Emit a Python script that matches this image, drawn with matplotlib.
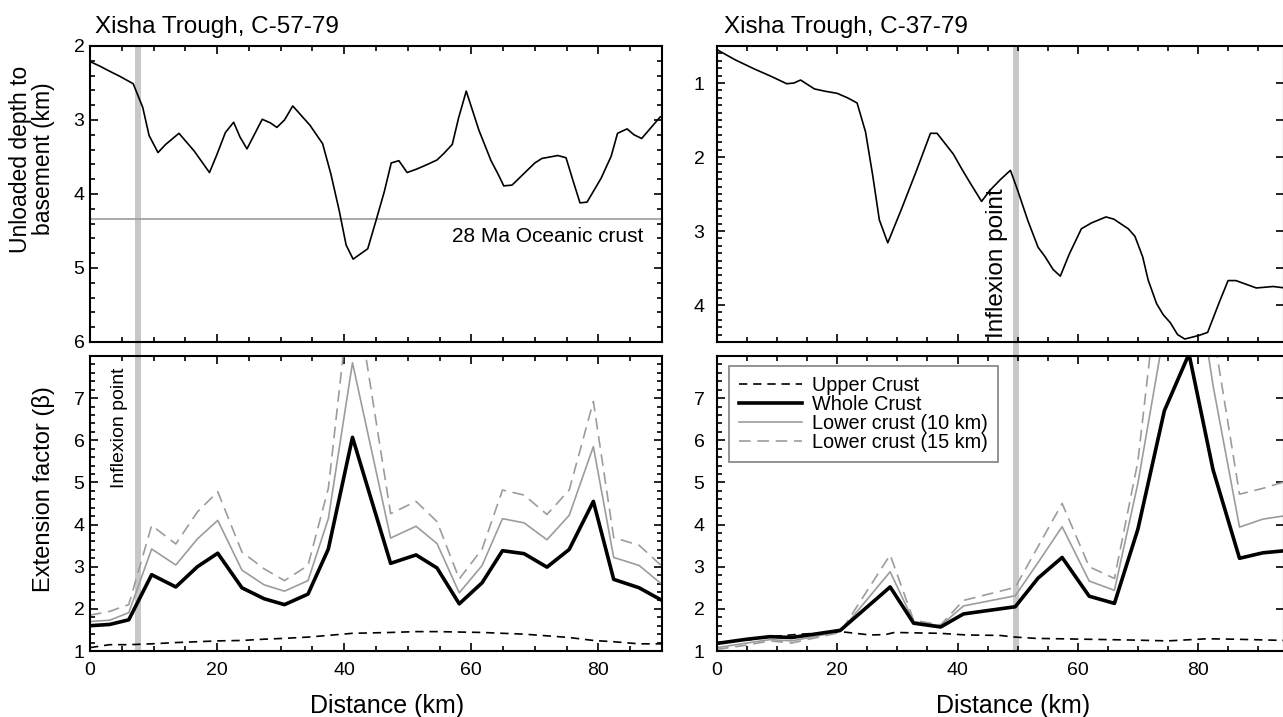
import matplotlib
matplotlib.use('Agg')
import matplotlib.pyplot as plt
from matplotlib.ticker import MultipleLocator, FixedLocator, NullFormatter

plt.rcParams['font.family'] = ['Liberation Sans', 'DejaVu Sans']

# C-57-79 unloaded depth to basement
dist_a = [0, 1.5, 3.3, 4.7, 6.8, 8.3, 9.3, 10.7, 11.9, 14.0, 16.4, 18.8, 20.0, 21.3, 22.6,
          23.6, 24.7, 27.1, 28.4, 29.4, 30.6, 31.9, 34.6, 36.6, 37.9, 39.2, 40.3, 41.4, 43.7,
          45.0, 46.3, 47.4, 48.6, 49.9, 51.5, 53.1, 54.6, 55.7, 57.0, 58.0, 59.2, 61.2, 63.1,
          64.2, 65.1, 66.4, 68.2, 70.0, 71.1, 73.6, 74.9, 76.0, 77.1, 78.2, 80.4, 82.0, 83.0,
          84.5, 85.6, 86.8, 88.6, 89.7, 90.0]
depth_a = [2.21, 2.27, 2.35, 2.41, 2.51, 2.83, 3.21, 3.44, 3.33, 3.18, 3.42, 3.71, 3.46, 3.17,
           3.03, 3.23, 3.39, 2.99, 3.04, 3.10, 3.00, 2.81, 3.07, 3.32, 3.73, 4.22, 4.69, 4.88,
           4.74, 4.36, 3.97, 3.58, 3.55, 3.71, 3.66, 3.60, 3.54, 3.45, 3.33, 2.97, 2.61, 3.14,
           3.55, 3.73, 3.89, 3.88, 3.73, 3.58, 3.52, 3.48, 3.51, 3.82, 4.12, 4.11, 3.79, 3.49,
           3.18, 3.12, 3.20, 3.25, 3.07, 2.96, 2.95]
oceanic_depth = 4.34

# C-37-79 unloaded depth to basement
dist_b = [0, 3.1, 6.2, 9.0, 11.6, 12.8, 13.9, 16.2, 17.9, 20.0, 21.7, 23.3, 24.7, 25.9, 27.0,
          28.4, 30.7, 33.1, 35.5, 36.6, 39.3, 40.7, 42.1, 44.0, 45.4, 47.2, 48.8, 50.0, 51.7,
          53.4, 54.5, 55.9, 57.1, 58.6, 60.6, 62.3, 64.7, 66.0, 68.4, 69.5, 70.8, 71.7, 73.1,
          74.2, 75.4, 76.6, 77.8, 80.2, 81.6, 83.6, 85.0, 86.3, 89.7, 92.5, 94.5]
depth_b = [0.55, 0.69, 0.81, 0.91, 1.01, 1.00, 0.96, 1.08, 1.11, 1.14, 1.20, 1.27, 1.66, 2.25,
           2.85, 3.16, 2.70, 2.20, 1.68, 1.68, 1.96, 2.16, 2.35, 2.60, 2.45, 2.30, 2.18, 2.45,
           2.86, 3.22, 3.34, 3.52, 3.61, 3.31, 2.97, 2.89, 2.81, 2.84, 2.97, 3.07, 3.35, 3.66,
           3.98, 4.13, 4.24, 4.40, 4.46, 4.41, 4.37, 3.95, 3.67, 3.67, 3.77, 3.75, 3.77]

# C-57-79 extension factors
dist_c = [0, 3.1, 6.1, 9.7, 13.5, 16.9, 20.1, 23.9, 27.4, 30.6, 34.3, 37.5, 41.3, 47.3, 51.3,
          54.6, 58.1, 61.7, 64.9, 68.3, 71.9, 75.4, 79.2, 82.4, 86.4, 90.0]
whole_c = [1.60, 1.63, 1.74, 2.81, 2.52, 3.00, 3.32, 2.50, 2.24, 2.10, 2.35, 3.42, 6.07, 3.08,
           3.28, 2.97, 2.12, 2.62, 3.38, 3.31, 2.99, 3.41, 4.55, 2.70, 2.50, 2.20]
lower10_c = [1.70, 1.73, 1.91, 3.42, 3.04, 3.66, 4.10, 2.92, 2.57, 2.42, 2.67, 4.14, 7.84, 3.68,
             3.96, 3.55, 2.38, 3.03, 4.14, 4.04, 3.64, 4.22, 5.85, 3.22, 3.03, 2.58]
lower15_c = [1.85, 1.94, 2.10, 3.98, 3.54, 4.30, 4.78, 3.35, 2.95, 2.67, 3.03, 4.86, 10.0, 4.26,
             4.55, 4.07, 2.71, 3.42, 4.82, 4.70, 4.24, 4.82, 6.92, 3.69, 3.51, 3.01]
upper_c = [1.08, 1.15, 1.15, 1.17, 1.20, 1.22, 1.24, 1.25, 1.28, 1.30, 1.33, 1.37, 1.42, 1.44,
           1.46, 1.46, 1.45, 1.44, 1.42, 1.40, 1.36, 1.32, 1.25, 1.22, 1.17, 1.17]

# C-37-79 extension factors
dist_d = [0, 5.0, 8.8, 12.4, 20.5, 28.8, 32.7, 37.2, 41.0, 49.6, 53.4, 57.4, 61.9, 66.1, 70.0,
          74.4, 78.5, 82.5, 86.9, 90.8, 94.5]
whole_d = [1.18, 1.28, 1.34, 1.32, 1.49, 2.52, 1.66, 1.57, 1.88, 2.05, 2.73, 3.22, 2.30, 2.13,
           3.89, 6.70, 8.05, 5.30, 3.20, 3.33, 3.38]
lower10_d = [1.08, 1.19, 1.27, 1.24, 1.46, 2.88, 1.70, 1.60, 2.07, 2.31, 3.10, 3.95, 2.66, 2.44,
             4.98, 8.6, 11.0, 7.3, 3.94, 4.13, 4.21]
lower15_d = [1.04, 1.14, 1.24, 1.19, 1.44, 3.28, 1.73, 1.62, 2.20, 2.51, 3.48, 4.50, 3.00, 2.72,
             5.5, 11.0, 14.0, 8.6, 4.72, 4.86, 5.02]
dist_upper_d = [0, 5.0, 8.8, 13.0, 20.5, 25.5, 28.0, 29.5, 33, 37, 41.5, 47, 49.6, 53, 61, 69,
                75, 81.5, 86, 94.5]
upper_d = [1.20, 1.26, 1.34, 1.39, 1.46, 1.38, 1.39, 1.44, 1.43, 1.42, 1.38, 1.37, 1.33, 1.30,
           1.28, 1.26, 1.24, 1.29, 1.28, 1.25]

inflexion_a = (7.1, 8.0)
inflexion_b = (49.2, 50.2)

W, H = 1283, 717
fig = plt.figure(figsize=(W / 100, H / 100), dpi=100)

def box(x0, y0, x1, y1):
    return [x0 / W, 1 - y1 / H, (x1 - x0) / W, (y1 - y0) / H]

ax_a = fig.add_axes(box(90, 46, 662, 342))
ax_c = fig.add_axes(box(90, 356, 662, 651))
ax_b = fig.add_axes(box(717, 46, 1284, 342))
ax_d = fig.add_axes(box(717, 356, 1284, 651))

band = '#c8c8c8'
grey = '#9c9c9c'

def style(ax, ymaj, ymin, ypad, right_ticks=None):
    for s in ax.spines.values():
        s.set_linewidth(1.5)
    ax.xaxis.set_major_locator(MultipleLocator(20))
    ax.xaxis.set_minor_locator(MultipleLocator(5))
    ax.yaxis.set_major_locator(FixedLocator(ymaj))
    ax.yaxis.set_minor_locator(MultipleLocator(ymin))
    ax.tick_params(which='both', direction='in', top=True, right=right_ticks is None,
                   width=1.2, labelsize=14)
    ax.tick_params(which='major', length=6)
    ax.tick_params(which='minor', length=3.5)
    ax.tick_params(axis='x', pad=8)
    ax.tick_params(axis='y', pad=ypad)
    if right_ticks is not None:
        sec = ax.secondary_yaxis('right')
        sec.yaxis.set_major_locator(FixedLocator(right_ticks))
        sec.yaxis.set_major_formatter(NullFormatter())
        sec.tick_params(direction='in', length=6, width=1.2)
        sec.spines['right'].set_linewidth(1.5)

# top left: depth C-57-79
ax_a.axvspan(*inflexion_a, ymin=-0.05, ymax=1, color=band, lw=0, zorder=0.5, clip_on=False)
ax_a.axhline(oceanic_depth, color=grey, lw=1.2, zorder=1)
ax_a.plot(dist_a, depth_a, color='black', lw=1.2, zorder=2)
ax_a.set_xlim(0, 90)
ax_a.set_ylim(6, 2)
ax_a.text(87.1, 4.58, '28 Ma Oceanic crust', ha='right', va='center', fontsize=15)
style(ax_a, [2, 3, 4, 5, 6], 0.2, 4)
ax_a.tick_params(axis='x', labelbottom=False)

# top right: depth C-37-79
ax_b.axvspan(*inflexion_b, ymin=-0.05, ymax=1, color=band, lw=0, zorder=0.5, clip_on=False)
ax_b.plot(dist_b, depth_b, color='black', lw=1.2, zorder=2)
ax_b.set_xlim(0, 94.3)
ax_b.set_ylim(4.5, 0.5)
ax_b.text(46.6, 4.44, 'Inflexion point', rotation=90, ha='center', va='bottom', fontsize=17.5)
style(ax_b, [1, 2, 3, 4], 0.1, 9, right_ticks=[1, 1.5, 2, 2.5, 3, 3.5, 4])
ax_b.tick_params(axis='x', labelbottom=False)

# bottom left: extension factor C-57-79
ax_c.axvspan(*inflexion_a, color=band, lw=0, zorder=0.5)
ax_c.plot(dist_c, lower15_c, color=grey, lw=1.2, dashes=(7, 4), zorder=2)
ax_c.plot(dist_c, lower10_c, color=grey, lw=1.2, zorder=2)
ax_c.plot(dist_c, upper_c, color='black', lw=1.2, dashes=(5, 3.5), zorder=2)
ax_c.plot(dist_c, whole_c, color='black', lw=2.6, zorder=3)
ax_c.set_xlim(0, 90)
ax_c.set_ylim(1, 8)
ax_c.text(4.7, 7.72, 'Inflexion point', rotation=90, ha='center', va='top', fontsize=14)
style(ax_c, [1, 2, 3, 4, 5, 6, 7], 0.2, 4)

# bottom right: extension factor C-37-79
ax_d.axvspan(*inflexion_b, color=band, lw=0, zorder=0.5)
l15, = ax_d.plot(dist_d, lower15_d, color=grey, lw=1.2, dashes=(7, 4), zorder=2,
                 label='Lower crust (15 km)')
l10, = ax_d.plot(dist_d, lower10_d, color=grey, lw=1.2, zorder=2, label='Lower crust (10 km)')
lup, = ax_d.plot(dist_upper_d, upper_d, color='black', lw=1.2, dashes=(5, 3.5), zorder=2,
                 label='Upper Crust')
lwh, = ax_d.plot(dist_d, whole_d, color='black', lw=2.6, zorder=3, label='Whole Crust')
ax_d.set_xlim(0, 94.3)
ax_d.set_ylim(1, 8)
style(ax_d, [1, 2, 3, 4, 5, 6, 7], 0.2, 9, right_ticks=[1, 2, 3, 4, 5, 6, 7])
leg = ax_d.legend(handles=[lup, lwh, l10, l15], loc='upper left',
                  bbox_to_anchor=(0.021, 0.966), borderaxespad=0, fontsize=14.3,
                  labelspacing=0.0, handlelength=3.2, handletextpad=0.5,
                  borderpad=0.5, fancybox=False, framealpha=1)
leg.get_frame().set_edgecolor('#808080')
leg.get_frame().set_linewidth(1.2)

# titles and axis labels
fig.text(95 / W, 1 - 33 / H, 'Xisha Trough, C-57-79', fontsize=17.5, va='baseline')
fig.text(724 / W, 1 - 33 / H, 'Xisha Trough, C-37-79', fontsize=17.5, va='baseline')
fig.text(32 / W, 1 - 159 / H, 'Unloaded depth to\nbasement (km)', rotation=90,
         ha='center', va='center', multialignment='center', fontsize=16.5, linespacing=1.0)
fig.text(44 / W, 1 - 489 / H, 'Extension factor (\u03b2)', rotation=90,
         ha='center', va='center', fontsize=17)
fig.text(387 / W, 1 - 713 / H, 'Distance (km)', ha='center', va='baseline', fontsize=18)
fig.text(1013 / W, 1 - 713 / H, 'Distance (km)', ha='center', va='baseline', fontsize=18)

fig.savefig('out.png', dpi=100)
